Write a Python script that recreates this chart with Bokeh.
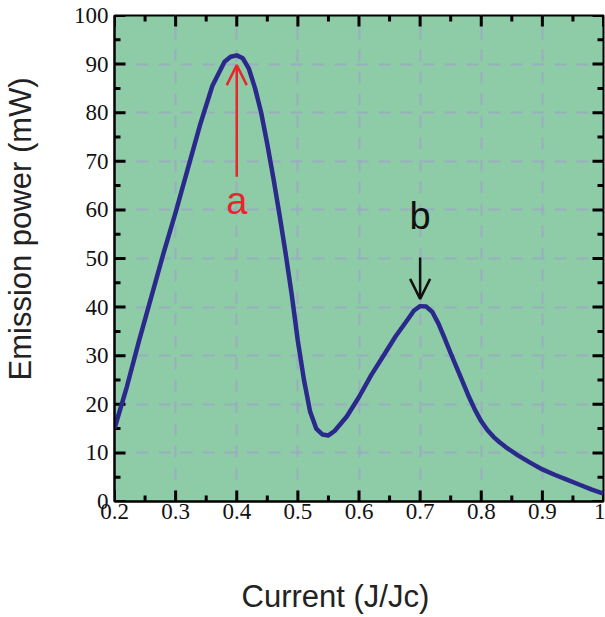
import numpy as np
from bokeh.plotting import figure
from bokeh.models import (Arrow, OpenHead, Label, FixedTicker, Title, LinearAxis,
                          CustomJSTickFormatter, Range1d)
from bokeh.embed import file_html
from bokeh.resources import INLINE

# ---- data ----
current = [0.20, 0.22, 0.24, 0.26, 0.28, 0.30, 0.32, 0.34, 0.36, 0.38, 0.39,
           0.40, 0.41, 0.42, 0.43, 0.44, 0.45, 0.46, 0.47, 0.48, 0.49, 0.50,
           0.51, 0.52, 0.53, 0.54, 0.55, 0.56, 0.58, 0.60, 0.62, 0.64, 0.66,
           0.68, 0.69, 0.70, 0.71, 0.72, 0.73, 0.74, 0.75, 0.76, 0.77, 0.78,
           0.79, 0.80, 0.81, 0.82, 0.83, 0.84, 0.86, 0.88, 0.90, 0.92, 0.94,
           0.96, 0.98, 1.00]
power = [15.0, 23.5, 33.0, 42.0, 51.0, 59.5, 68.5, 77.5, 85.5, 90.5, 91.5,
         91.8, 91.2, 89.0, 85.0, 80.0, 73.5, 66.5, 59.0, 51.0, 42.5, 33.0,
         25.0, 18.5, 15.0, 13.8, 13.6, 14.5, 17.5, 21.5, 26.0, 30.0, 34.0,
         37.5, 39.3, 40.2, 40.1, 39.0, 36.6, 33.6, 30.5, 27.5, 24.5, 21.5,
         18.8, 16.5, 14.7, 13.3, 12.2, 11.2, 9.5, 8.0, 6.6, 5.5, 4.5,
         3.5, 2.5, 1.6]

x_ticks = [0.2, 0.3, 0.4, 0.5, 0.6, 0.7, 0.8, 0.9, 1.0]
x_minor = [0.25, 0.35, 0.45, 0.55, 0.65, 0.75, 0.85, 0.95]
y_ticks = [0, 10, 20, 30, 40, 50, 60, 70, 80, 90, 100]
y_minor = [5, 15, 25, 35, 45, 55, 65, 75, 85, 95]

x_title = "Current (J/Jc)"
y_title = "Emission power (mW)"
peak_labels = ["a", "b"]

X0, X1, Y0, Y1 = 0.2, 1.0, 0, 100
W, H = 605, 617
BL, BR, BT, BB = 114, 2, 15, 116

# ---- figure ----
p = figure(width=W, height=H, x_range=Range1d(X0, X1), y_range=Range1d(Y0, Y1),
           output_backend="svg", toolbar_location=None,
           min_border_left=BL, min_border_right=BR, min_border_top=BT,
           min_border_bottom=BB)
p.background_fill_color = "#8dcca6"
p.border_fill_color = "white"
p.outline_line_color = "black"
p.outline_line_width = 2

xt = FixedTicker(ticks=x_ticks, minor_ticks=x_minor)
yt = FixedTicker(ticks=y_ticks, minor_ticks=y_minor)

for ax in (p.xaxis[0], p.yaxis[0]):
    ax.axis_line_color = "black"
    ax.axis_line_width = 2
    ax.major_tick_in = 0
    ax.major_tick_out = 0
    ax.minor_tick_in = 0
    ax.minor_tick_out = 0
    ax.major_label_text_font = "Liberation Serif"
    ax.major_label_text_font_size = "23px"
    ax.major_label_text_color = "#111111"

p.xaxis.ticker = xt
p.yaxis.ticker = yt
p.xaxis.formatter = CustomJSTickFormatter(
    code="return (Math.abs(tick - 1) < 1e-9) ? '1' : tick.toFixed(1);")
p.xaxis.major_label_standoff = 2
p.yaxis.major_label_standoff = 6

for g, t in ((p.xgrid, xt), (p.ygrid, yt)):
    g.ticker = t
    g.grid_line_color = "#9ea8c6"
    g.grid_line_alpha = 0.85
    g.grid_line_width = 2
    g.grid_line_dash = "12 10"

# inward ticks on all four sides, lengths given in pixels
fw = W - BL - BR
fh = H - BT - BB
dx = (X1 - X0) / fw
dy = (Y1 - Y0) / fh
for vals, px in ((x_ticks, 11), (x_minor, 6)):
    n = len(vals)
    p.segment(x0=vals, y0=[Y0] * n, x1=vals, y1=[Y0 + px * dy] * n,
              line_color="black", line_width=3)
    p.segment(x0=vals, y0=[Y1] * n, x1=vals, y1=[Y1 - px * dy] * n,
              line_color="black", line_width=3)
for vals, px in ((y_ticks, 11), (y_minor, 6)):
    n = len(vals)
    p.segment(x0=[X0] * n, y0=vals, x1=[X0 + px * dx] * n, y1=vals,
              line_color="black", line_width=3)
    p.segment(x0=[X1] * n, y0=vals, x1=[X1 - px * dx] * n, y1=vals,
              line_color="black", line_width=3)

p.line(current, power, line_width=4.5, color="#2b2a8c", line_join="round")

# ---- annotations at the two peaks ----
xs = np.array(current)
ys = np.array(power)
first = xs < 0.5
ia = int(np.argmax(np.where(first, ys, -1)))
ib = int(np.argmax(np.where(~first, ys, -1)))

p.add_layout(Arrow(end=OpenHead(size=20, line_color="#e8262e", line_width=2.5),
                   x_start=xs[ia], y_start=ys[ia] - 25, x_end=xs[ia], y_end=ys[ia] - 2,
                   line_color="#e8262e", line_width=2.5))
p.add_layout(Label(x=xs[ia], y=ys[ia] - 30, text=peak_labels[0], text_align="center",
                   text_baseline="middle", text_font="Liberation Sans",
                   text_font_size="38px", text_color="#e8262e"))

p.add_layout(Arrow(end=OpenHead(size=20, line_color="#111111", line_width=2.5),
                   x_start=xs[ib], y_start=ys[ib] + 10, x_end=xs[ib], y_end=ys[ib] + 1.5,
                   line_color="#111111", line_width=2.5))
p.add_layout(Label(x=xs[ib], y=ys[ib] + 18.5, text=peak_labels[1], text_align="center",
                   text_baseline="middle", text_font="Liberation Sans",
                   text_font_size="38px", text_color="#111111"))

# ---- spacers (blank axes: one white outward tick reserves room) ----
def spacer(tick, size):
    return LinearAxis(ticker=FixedTicker(ticks=[tick], minor_ticks=[]),
                      formatter=CustomJSTickFormatter(code="return '';"),
                      major_tick_out=size, minor_tick_out=0, major_tick_in=0,
                      minor_tick_in=0, major_label_standoff=0,
                      major_label_text_font_size="1px",
                      axis_line_color="white", major_tick_line_color="white",
                      minor_tick_line_color="white")

p.add_layout(spacer(X0, 55), "below")
p.add_layout(Title(text=x_title, align="left", offset=127, standoff=0,
                   text_font="Liberation Sans", text_font_size="31px",
                   text_font_style="normal", text_color="#222222"), "below")
p.add_layout(spacer(Y0, 33), "left")
p.add_layout(Title(text=y_title, align="left", offset=121, standoff=0,
                   text_font="Liberation Sans", text_font_size="31px",
                   text_font_style="normal", text_color="#222222"), "left")

open("out.html", "w").write(file_html(p, INLINE))
